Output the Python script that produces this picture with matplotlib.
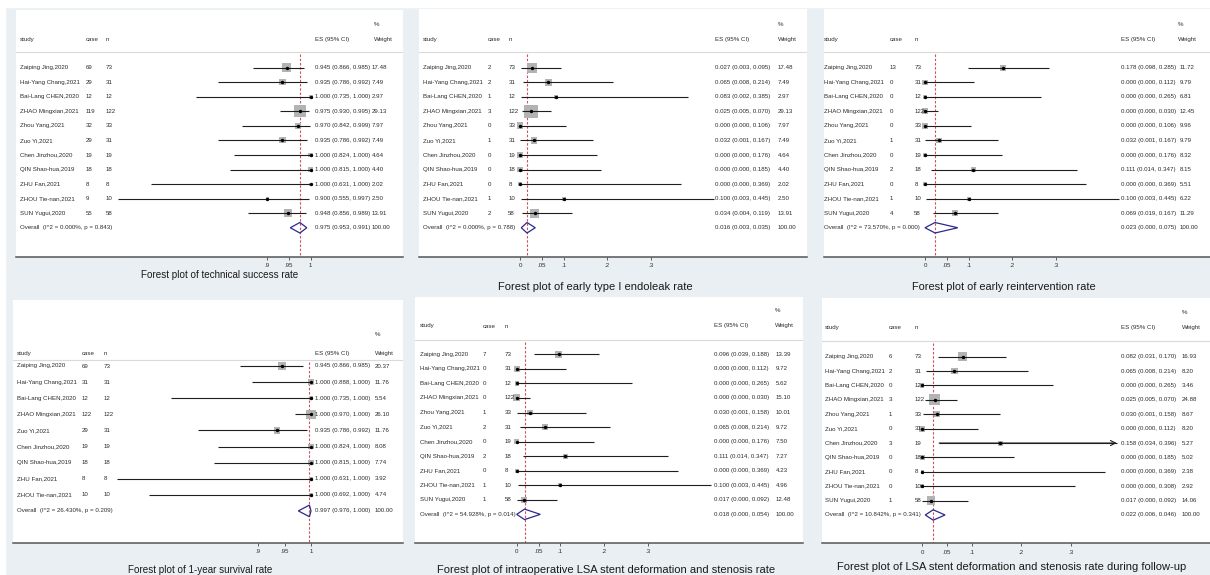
import numpy as np
import matplotlib
matplotlib.use('Agg')
import matplotlib.pyplot as plt
from matplotlib import transforms
from matplotlib.patches import Polygon, Rectangle

plt.rcParams['font.family'] = ['Liberation Sans', 'DejaVu Sans']

# ---- data ----
studies = ["Zaiping Jing,2020", "Hai-Yang Chang,2021", "Bai-Lang CHEN,2020",
           "ZHAO Mingxian,2021", "Zhou Yang,2021", "Zuo Yi,2021",
           "Chen Jinzhou,2020", "QIN Shao-hua,2019", "ZHU Fan,2021",
           "ZHOU Tie-nan,2021", "SUN Yugui,2020"]
studies_surv = ["Zaiping Jing,2020", "Hai-Yang Chang,2021", "Bai-Lang CHEN,2020",
                "ZHAO Mingxian,2021", "Zuo Yi,2021", "Chen Jinzhou,2020",
                "QIN Shao-hua,2019", "ZHU Fan,2021", "ZHOU Tie-nan,2021"]
n_all = [73, 31, 12, 122, 33, 31, 19, 18, 8, 10, 58]
n_surv = [73, 31, 12, 122, 31, 19, 18, 8, 10]

# technical success rate
tech_case = [69, 29, 12, 119, 32, 29, 19, 18, 8, 9, 55]
tech_es = [0.945, 0.935, 1.000, 0.975, 0.970, 0.935, 1.000, 1.000, 1.000, 0.900, 0.948]
tech_lo = [0.866, 0.786, 0.735, 0.930, 0.842, 0.786, 0.824, 0.815, 0.631, 0.555, 0.856]
tech_hi = [0.985, 0.992, 1.000, 0.995, 0.999, 0.992, 1.000, 1.000, 1.000, 0.997, 0.989]
tech_w = [17.48, 7.49, 2.97, 29.13, 7.97, 7.49, 4.64, 4.40, 2.02, 2.50, 13.91]
tech_overall = [0.975, 0.953, 0.991]
tech_het = ["0.000%", "0.843"]

# early type I endoleak rate
leak_case = [2, 2, 1, 3, 0, 1, 0, 0, 0, 1, 2]
leak_es = [0.027, 0.065, 0.083, 0.025, 0.000, 0.032, 0.000, 0.000, 0.000, 0.100, 0.034]
leak_lo = [0.003, 0.008, 0.002, 0.005, 0.000, 0.001, 0.000, 0.000, 0.000, 0.003, 0.004]
leak_hi = [0.095, 0.214, 0.385, 0.070, 0.106, 0.167, 0.176, 0.185, 0.369, 0.445, 0.119]
leak_w = [17.48, 7.49, 2.97, 29.13, 7.97, 7.49, 4.64, 4.40, 2.02, 2.50, 13.91]
leak_overall = [0.016, 0.003, 0.035]
leak_het = ["0.000%", "0.788"]

# early reintervention rate
reint_case = [13, 0, 0, 0, 0, 1, 0, 2, 0, 1, 4]
reint_es = [0.178, 0.000, 0.000, 0.000, 0.000, 0.032, 0.000, 0.111, 0.000, 0.100, 0.069]
reint_lo = [0.098, 0.000, 0.000, 0.000, 0.000, 0.001, 0.000, 0.014, 0.000, 0.003, 0.019]
reint_hi = [0.285, 0.112, 0.265, 0.030, 0.106, 0.167, 0.176, 0.347, 0.369, 0.445, 0.167]
reint_w = [11.72, 9.79, 6.81, 12.45, 9.96, 9.79, 8.32, 8.15, 5.51, 6.22, 11.29]
reint_overall = [0.023, 0.000, 0.075]
reint_het = ["73.570%", "0.000"]

# 1-year survival rate
surv_case = [69, 31, 12, 122, 29, 19, 18, 8, 10]
surv_es = [0.945, 1.000, 1.000, 1.000, 0.935, 1.000, 1.000, 1.000, 1.000]
surv_lo = [0.866, 0.888, 0.735, 0.970, 0.786, 0.824, 0.815, 0.631, 0.692]
surv_hi = [0.985, 1.000, 1.000, 1.000, 0.992, 1.000, 1.000, 1.000, 1.000]
surv_w = [20.37, 11.76, 5.54, 26.10, 11.76, 8.08, 7.74, 3.92, 4.74]
surv_overall = [0.997, 0.976, 1.000]
surv_het = ["26.430%", "0.209"]

# intraoperative LSA stent deformation and stenosis rate
intra_case = [7, 0, 0, 0, 1, 2, 0, 2, 0, 1, 1]
intra_es = [0.096, 0.000, 0.000, 0.000, 0.030, 0.065, 0.000, 0.111, 0.000, 0.100, 0.017]
intra_lo = [0.039, 0.000, 0.000, 0.000, 0.001, 0.008, 0.000, 0.014, 0.000, 0.003, 0.000]
intra_hi = [0.188, 0.112, 0.265, 0.030, 0.158, 0.214, 0.176, 0.347, 0.369, 0.445, 0.092]
intra_w = [13.39, 9.72, 5.62, 15.10, 10.01, 9.72, 7.50, 7.27, 4.23, 4.96, 12.48]
intra_overall = [0.018, 0.000, 0.054]
intra_het = ["54.928%", "0.014"]

# LSA stent deformation and stenosis rate during follow-up
fu_case = [6, 2, 0, 3, 1, 0, 3, 0, 0, 0, 1]
fu_es = [0.082, 0.065, 0.000, 0.025, 0.030, 0.000, 0.158, 0.000, 0.000, 0.000, 0.017]
fu_lo = [0.031, 0.008, 0.000, 0.005, 0.001, 0.000, 0.034, 0.000, 0.000, 0.000, 0.000]
fu_hi = [0.170, 0.214, 0.265, 0.070, 0.158, 0.112, 0.396, 0.185, 0.369, 0.308, 0.092]
fu_w = [16.93, 8.20, 3.46, 24.88, 8.67, 8.20, 5.27, 5.02, 2.38, 2.92, 14.06]
fu_overall = [0.022, 0.006, 0.046]
fu_het = ["10.842%", "0.341"]

ticks_hi = [0.9, 0.95, 1.0]
ticklabels_hi = [".9", ".95", "1"]
ticks_lo = [0, 0.05, 0.1, 0.2, 0.3]
ticklabels_lo = ["0", ".05", ".1", ".2", ".3"]

titles = ["Forest plot of technical success rate",
          "Forest plot of early type I endoleak rate",
          "Forest plot of early reintervention rate",
          "Forest plot of 1-year survival rate",
          "Forest plot of intraoperative LSA stent deformation and stenosis rate",
          "Forest plot of LSA stent deformation and stenosis rate during follow-up"]

# ---- layout, all in pixels of the 1210x575 picture ----
W, H = 1210, 575
BG = '#e9eff2'
TXT = '#2b2b2b'
FS = 4.4

layouts = [
    dict(box=(16, 10, 403, 256.7), ref=((0.9, 267.3), (1.0, 310.7)), rows=(67.7, 14.55),
         hdr=(25, 39.3, 51.7), cols=(20, 85.7, 105.7, 315, 374, 372), k=2.2, clip=None,
         title=(219.5, 275, 159)),
    dict(box=(419, 9, 807, 256.7), ref=((0.0, 520.0), (0.3, 651.0)), rows=(67.7, 14.55),
         hdr=(25, 39.3, 51.7), cols=(423.3, 487.7, 508.3, 715, 778, 778), k=2.45, clip=None,
         title=(595, 287.3, 194)),
    dict(box=(824, 9, 1210, 256.7), ref=((0.0, 925.0), (0.3, 1056.0)), rows=(67.7, 14.55),
         hdr=(25, 39.3, 51.7), cols=(824, 890, 914.3, 1121, 1177.7, 1180), k=1.7, clip=None,
         title=(1004.2, 286.7, 185)),
    dict(box=(13, 300, 403, 542.7), ref=((0.9, 258.3), (1.0, 311.0)), rows=(366, 16.1),
         hdr=(335, 353.3, 359.5), cols=(16.7, 81.7, 103.3, 315, 375, 375), k=1.85, clip=None,
         title=(200.5, 569.8, 145)),
    dict(box=(415, 297, 803, 542.7), ref=((0.0, 516.7), (0.3, 647.7)), rows=(354.3, 14.55),
         hdr=(311, 326, 340), cols=(420, 482.3, 505, 714.3, 775, 776), k=1.8, clip=None,
         title=(606, 570.3, 336)),
    dict(box=(822, 298, 1210, 543.3), ref=((0.0, 922.3), (0.3, 1070.7)), rows=(356.7, 14.39),
         hdr=(313, 327.3, 341), cols=(825, 888.3, 915, 1121, 1181.7, 1181.7), k=2.2, clip=0.393,
         title=(1011.5, 567.3, 349)),
]


def fit_text(fig, t, target):
    """scale a text so that it is target pixels wide"""
    r = fig.canvas.get_renderer()
    wpx = t.get_window_extent(renderer=r).width
    t.set_fontsize(t.get_fontsize() * target / wpx)


def draw_panel(fig, lay, names, case, n, es, lo, hi, w, overall, het, ticks, ticklabels, title):
    L, T, R, B = lay['box']
    ax = fig.add_axes([L / W, 1 - B / H, (R - L) / W, (B - T) / H])
    ax.set_facecolor('white')
    (v1, p1), (v2, p2) = lay['ref']
    s = (p2 - p1) / (v2 - v1)
    ax.set_xlim(v1 - (p1 - L) / s, v1 + (R - p1) / s)
    y0, dy = lay['rows']
    ybot = (B - y0) / dy
    ax.set_ylim(ybot, (T - y0) / dy)

    def row(py):
        return (py - y0) / dy

    def col(px):
        return (px - L) / (R - L)

    tr = transforms.blended_transform_factory(ax.transAxes, ax.transData)
    rows = np.arange(len(names))
    es = np.array(es)
    lo = np.array(lo)
    hi = np.array(hi)
    w = np.array(w)

    # confidence intervals
    clip = lay['clip']
    hi_d = hi if clip is None else np.minimum(hi, clip)
    ax.hlines(rows, lo, hi_d, color='#1e1e1e', lw=0.8, zorder=2)
    if clip is not None:
        for r, a, b in zip(rows, lo, hi):
            if b > clip:
                ax.annotate('', xy=(clip, r), xytext=(a, r),
                            arrowprops=dict(arrowstyle='->', lw=0.8, color='#1e1e1e',
                                            mutation_scale=9, shrinkA=0, shrinkB=0))
    # weight boxes + point estimates
    side = lay['k'] * np.sqrt(w) * 0.72
    ax.scatter(es, rows, s=side ** 2, marker='s', color='#b3b3b3', lw=0, zorder=1)
    ax.scatter(es, rows, s=6, marker='o', color='black', lw=0, zorder=3)

    # pooled estimate
    oe, olo, ohi = overall
    yo = len(names)
    hh = 0.36
    ax.add_patch(Polygon([(olo, yo), (oe, yo - hh), (ohi, yo), (oe, yo + hh)],
                         closed=True, fill=False, ec='#2a2a8c', lw=0.9, zorder=3))
    ax.vlines(oe, row(lay['hdr'][2]) + 0.15, ybot, color='#d0505e', lw=0.8,
              linestyles=(0, (2.2, 1.6)), zorder=0)
    ax.axhline(row(lay['hdr'][2]), color='#dadada', lw=0.8)

    # table text
    cs, cc, cn, ce, cwh, cw = lay['cols']
    ypct, yhd, _ = lay['hdr']
    kw = dict(transform=tr, fontsize=FS, color=TXT, va='center', ha='left')
    ax.text(col(cs), row(yhd), 'study', **kw)
    ax.text(col(cc), row(yhd), 'case', **kw)
    ax.text(col(cn), row(yhd), 'n', **kw)
    ax.text(col(ce), row(yhd), 'ES (95% CI)', **kw)
    ax.text(col(cwh), row(yhd), 'Weight', **kw)
    ax.text(col(cwh), row(ypct), '%', **kw)
    for r in rows:
        ax.text(col(cs), r, names[r], **kw)
        ax.text(col(cc), r, str(case[r]), **kw)
        ax.text(col(cn), r, str(n[r]), **kw)
        ax.text(col(ce), r, '%.3f (%.3f, %.3f)' % (es[r], lo[r], hi[r]), **kw)
        ax.text(col(cw), r, '%.2f' % w[r], **kw)
    ax.text(col(cs), yo, 'Overall  (I^2 = %s, p = %s)' % (het[0], het[1]), **kw)
    ax.text(col(ce), yo, '%.3f (%.3f, %.3f)' % (oe, olo, ohi), **kw)
    ax.text(col(cw), yo, '100.00', **kw)

    # axis
    ax.set_xticks(ticks, ticklabels)
    ax.set_yticks([])
    ax.tick_params(axis='x', length=2.5, width=0.6, colors='#444444', labelsize=FS,
                   pad=2, labelcolor=TXT)
    for sp in ['top', 'left', 'right']:
        ax.spines[sp].set_visible(False)
    ax.spines['bottom'].set_color('#555555')
    ax.spines['bottom'].set_linewidth(1.1)

    cx, cy, tw = lay['title']
    t = fig.text(cx / W, 1 - cy / H, title, ha='center', va='center', fontsize=10, color='#1a1a1a')
    fit_text(fig, t, tw)
    return ax


fig = plt.figure(figsize=(12.1, 5.75), dpi=100, facecolor=BG)
# thin white border at top and left of the picture
fig.patches.append(Rectangle((0, 1 - 7 / H), 1, 7 / H, transform=fig.transFigure,
                             color='white', zorder=-1))
fig.patches.append(Rectangle((0, 0), 5 / W, 1, transform=fig.transFigure,
                             color='white', zorder=-1))

draw_panel(fig, layouts[0], studies, tech_case, n_all, tech_es, tech_lo, tech_hi, tech_w,
           tech_overall, tech_het, ticks_hi, ticklabels_hi, titles[0])
draw_panel(fig, layouts[1], studies, leak_case, n_all, leak_es, leak_lo, leak_hi, leak_w,
           leak_overall, leak_het, ticks_lo, ticklabels_lo, titles[1])
draw_panel(fig, layouts[2], studies, reint_case, n_all, reint_es, reint_lo, reint_hi, reint_w,
           reint_overall, reint_het, ticks_lo, ticklabels_lo, titles[2])
draw_panel(fig, layouts[3], studies_surv, surv_case, n_surv, surv_es, surv_lo, surv_hi, surv_w,
           surv_overall, surv_het, ticks_hi, ticklabels_hi, titles[3])
draw_panel(fig, layouts[4], studies, intra_case, n_all, intra_es, intra_lo, intra_hi, intra_w,
           intra_overall, intra_het, ticks_lo, ticklabels_lo, titles[4])
draw_panel(fig, layouts[5], studies, fu_case, n_all, fu_es, fu_lo, fu_hi, fu_w,
           fu_overall, fu_het, ticks_lo, ticklabels_lo, titles[5])

fig.savefig('out.png', dpi=100, facecolor=fig.get_facecolor())
